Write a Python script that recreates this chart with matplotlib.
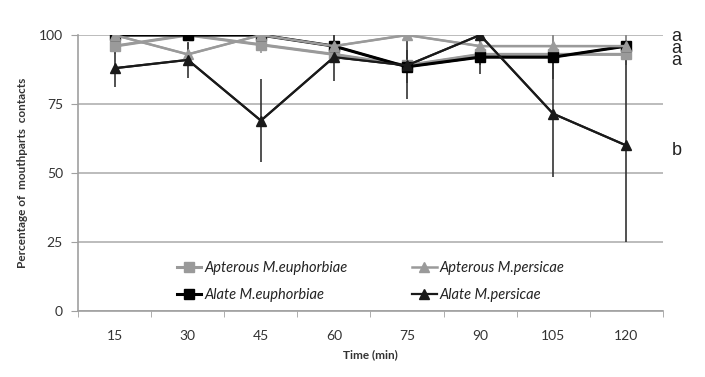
import numpy as np
import matplotlib
matplotlib.use("Agg")
import matplotlib.pyplot as plt

times = ["15", "30", "45", "60", "75", "90", "105", "120"]

apt_euph = [96, 100, 96.5, 93, 89, 93, 93, 93]
apt_pers = [100, 93, 100, 96, 100, 96, 96, 96]
ala_euph = [100, 100, 100, 96, 88.5, 92, 92, 96]
ala_pers = [88, 91, 69, 92, 89, 100, 71.5, 60]

apt_euph_err = [3, 0, 3, 3, 3, 4, 4, 4]
apt_pers_err = [0, 4, 0, 4, 0, 4, 4, 4]
ala_euph_err = [0, 0, 0, 4, 6, 3, 8, 5]
ala_pers_err = [7, 6.5, 15, 8.5, 12, 14, 23, 35]

# significance letters: three stacked "a" at the top, "b" for Alate M.persicae
top_letters = "a\na\na"
top_letters_y = 95
low_letter = "b"
low_letter_y = 58

plt.rcParams["font.family"] = ["Lato", "DejaVu Sans"]

fig = plt.figure(figsize=(7.05, 3.77), dpi=100)
ax = fig.add_axes([0.111, 0.175, 0.829, 0.732])

x = np.arange(len(times))
grey = "#9a9a9a"
series = [
    ("Apterous M.euphorbiae", apt_euph, apt_euph_err, grey, "s", 7, 2.2),
    ("Alate M.euphorbiae", ala_euph, ala_euph_err, "#000000", "s", 7, 2.2),
    ("Apterous M.persicae", apt_pers, apt_pers_err, grey, "^", 7, 1.8),
    ("Alate M.persicae", ala_pers, ala_pers_err, "#1a1a1a", "^", 7, 1.6),
]
handles = []
for name, vals, err, col, mk, ms, lw in series:
    ax.errorbar(x, vals, yerr=err, color=col, ecolor="#333333" if col != grey else grey,
                elinewidth=1.2, capsize=0, zorder=2)
    h, = ax.plot(x, vals, color=col, marker=mk, markersize=ms, linewidth=lw,
                 label=name, zorder=3)
    handles.append(h)

ax.set_xlim(-0.5, len(times) - 0.5)
ax.set_ylim(0, 100)
ax.set_yticks([0, 25, 50, 75, 100])
ax.set_xticks(x)
ax.set_xticklabels(times)
ax.set_xticks(np.arange(-0.5, len(times), 1), minor=True)
ax.tick_params(axis="x", which="major", length=0, pad=14, labelsize=10, colors="#333333")
ax.tick_params(axis="x", which="minor", length=4, color="#a0a0a0", direction="out")
ax.tick_params(axis="y", length=5, color="#a0a0a0", labelsize=10, colors="#333333", pad=6)

ax.grid(axis="y", color="#b0b0b0", linewidth=1.2)
ax.set_axisbelow(True)
for s in ["top", "right"]:
    ax.spines[s].set_visible(False)
ax.spines["left"].set_color("#a0a0a0")
ax.spines["bottom"].set_color("#a0a0a0")
ax.spines["left"].set_linewidth(1.2)
ax.spines["bottom"].set_linewidth(1.2)

ax.set_ylabel("Percentage of  mouthparts  contacts", fontsize=8.5, fontweight="bold",
              color="#333333", labelpad=8)
ax.set_xlabel("Time (min)", fontsize=8.5, fontweight="bold", color="#333333", labelpad=5)

leg = ax.legend(handles=handles, ncol=2, loc="lower center", bbox_to_anchor=(0.5, -0.015),
                frameon=False, prop={"style": "italic", "size": 10.5},
                handlelength=1.7, handletextpad=0.2, columnspacing=4.4, labelspacing=0.9)
for t in leg.get_texts():
    t.set_color("#222222")

xr = len(times) - 0.5 + 0.12
ax.text(xr, top_letters_y, top_letters, fontsize=13, va="center", ha="left",
        linespacing=0.62, family=["Liberation Sans", "DejaVu Sans"], color="#222222",
        clip_on=False)
ax.text(xr, low_letter_y, low_letter, fontsize=13, va="center", ha="left",
        family=["Liberation Sans", "DejaVu Sans"], color="#222222", clip_on=False)

fig.savefig("out.png", dpi=100)
